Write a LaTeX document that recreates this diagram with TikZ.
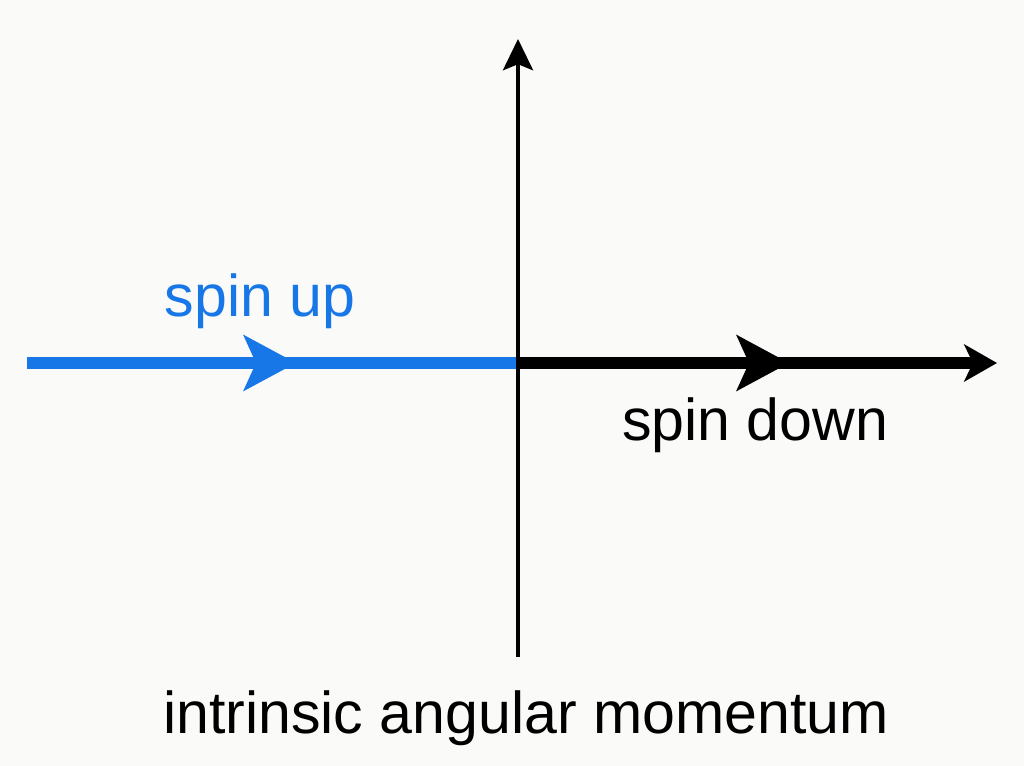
\documentclass[tikz,border=0pt]{standalone}
\usepackage{fontspec}
\setmainfont{Liberation Sans}
\usepackage{xcolor}
\usepackage{tikz}
\usetikzlibrary{arrows.meta}
\definecolor{paper}{HTML}{FAFAF8}
\definecolor{spinblue}{HTML}{1877E6}
\definecolor{ink}{HTML}{000000}

\begin{document}
\begin{tikzpicture}[x=0.025cm, y=-0.025cm, every node/.style={font=\fontsize{42}{50}\selectfont, inner sep=0pt}, lbl/.style={anchor=base,text=ink}, thick line/.style={line width=0.28cm,line cap=butt}, midtip/.style={-{Stealth[length=1.3cm,width=1.375cm,inset=0.3cm]}}, axis/.style={draw=ink,line width=0.1cm,-{Stealth[length=0.78cm,width=0.75cm,inset=0.15cm]}}]
\fill[paper] (0,0) rectangle (1024,766);
\coordinate (o) at (518,363);
\coordinate (upstart) at (27,363);
\coordinate (upmid) at (296,363);
\coordinate (downmid) at (789,363);
\coordinate (downend) at (997,363);
\coordinate (axbot) at (518,657);
\coordinate (axtop) at (518,39);
% spin up
\draw[thick line,spinblue] (upstart)--(o);
\draw[thick line,spinblue,midtip] (upstart)--(upmid);
% spin down
\draw[thick line,ink,-{Stealth[length=0.82cm,width=0.925cm,inset=0.22cm]}] (o)--(downend);
\draw[thick line,ink,midtip] (o)--(downmid);
% axis
\draw[axis] (axbot)--(axtop);
\node[lbl,text=spinblue] (up) at (260,317) {spin up};
\node[lbl] (down) at (755,441) {spin down};
\node[lbl] (title) at (526,733) {intrinsic angular momentum};
\end{tikzpicture}
\end{document}
